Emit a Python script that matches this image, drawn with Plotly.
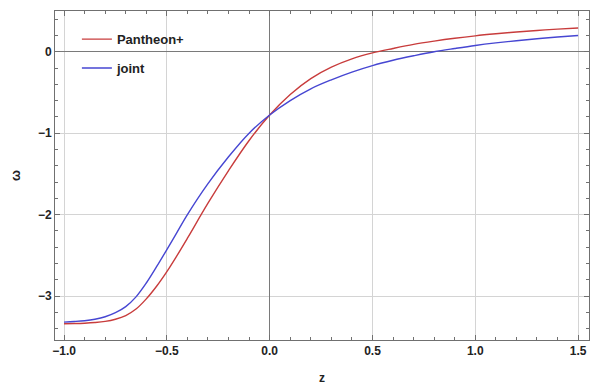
import plotly.graph_objects as go

z_grid = [-1.0, -0.95, -0.9, -0.85, -0.8, -0.75, -0.7, -0.65, -0.6, -0.55, -0.5, -0.45, -0.4,
          -0.3, -0.2, -0.1, 0.0, 0.1, 0.2, 0.3, 0.4, 0.5, 0.6, 0.7, 0.8, 0.9, 1.0,
          1.1, 1.2, 1.3, 1.4, 1.5]

w_pantheon = [-3.340, -3.338, -3.334, -3.326, -3.312, -3.285, -3.240, -3.160, -3.035, -2.880,
              -2.700, -2.500, -2.290,
              -1.860, -1.460, -1.090, -0.777, -0.525, -0.330, -0.190, -0.088, -0.015, 0.040,
              0.090, 0.130, 0.165, 0.195, 0.220, 0.242, 0.261, 0.278, 0.292]

w_joint = [-3.320, -3.313, -3.303, -3.285, -3.255, -3.205, -3.130, -3.010, -2.840, -2.640,
           -2.430, -2.215, -2.000,
           -1.620, -1.290, -1.000, -0.777, -0.600, -0.455, -0.345, -0.250, -0.170, -0.105,
           -0.050, 0.000, 0.040, 0.077, 0.108, 0.135, 0.160, 0.181, 0.200]

x_ticks = [-1.0, -0.5, 0.0, 0.5, 1.0, 1.5]
x_ticklabels = ["\u22121.0", "\u22120.5", "0.0", "0.5", "1.0", "1.5"]
y_ticks = [0, -1, -2, -3]
y_ticklabels = ["0", "\u22121", "\u22122", "\u22123"]

fig = go.Figure()
fig.add_trace(go.Scatter(x=z_grid, y=w_pantheon, mode="lines", name="Pantheon+",
                         line=dict(color="#c83c3c", width=1.4, shape="spline", smoothing=1.0),
                         legendgroup="a"))
fig.add_trace(go.Scatter(x=z_grid, y=w_joint, mode="lines", name="joint",
                         line=dict(color="#4646d2", width=1.4, shape="spline", smoothing=1.0),
                         legendgroup="b"))

tickfont = dict(family="Liberation Sans, Arial", size=12, color="#222222", weight="bold")
axcommon = dict(showline=True, linecolor="#707070", linewidth=1, mirror="allticks",
                ticks="inside", ticklen=5, tickcolor="#707070", tickwidth=1,
                showgrid=True, gridcolor="#d4d4d4", gridwidth=1,
                zeroline=True, zerolinecolor="#7a7a7a", zerolinewidth=1.2,
                tickfont=tickfont)

fig.update_xaxes(range=[-1.044, 1.553], tickvals=x_ticks, ticktext=x_ticklabels,
                 minor=dict(ticks="inside", dtick=0.1, tick0=0, ticklen=3, tickcolor="#707070", showgrid=False),
                 title=dict(text="z", font=dict(family="Liberation Sans, Arial", size=12, color="#222", weight="bold"), standoff=16),
                 **axcommon)
fig.update_yaxes(range=[-3.54, 0.5], tickvals=y_ticks, ticktext=y_ticklabels,
                 minor=dict(ticks="inside", dtick=0.2, tick0=0, ticklen=3, tickcolor="#707070", showgrid=False),
                 title=dict(text="\u03c9", font=dict(family="Liberation Sans, Arial", size=13, color="#222", weight="bold"), standoff=14),
                 **axcommon)

fig.update_layout(
    width=592, height=385,
    margin=dict(l=55, r=2, t=11, b=43),
    paper_bgcolor="white", plot_bgcolor="white",
    showlegend=True,
    legend=dict(x=0.041, y=0.96, xanchor="left", yanchor="top",
                bgcolor="rgba(255,255,255,0)", tracegroupgap=9,
                font=dict(family="Liberation Sans, Arial", size=13, color="#222", weight="bold"),
                itemwidth=30),
)

fig.write_html("out.html")
